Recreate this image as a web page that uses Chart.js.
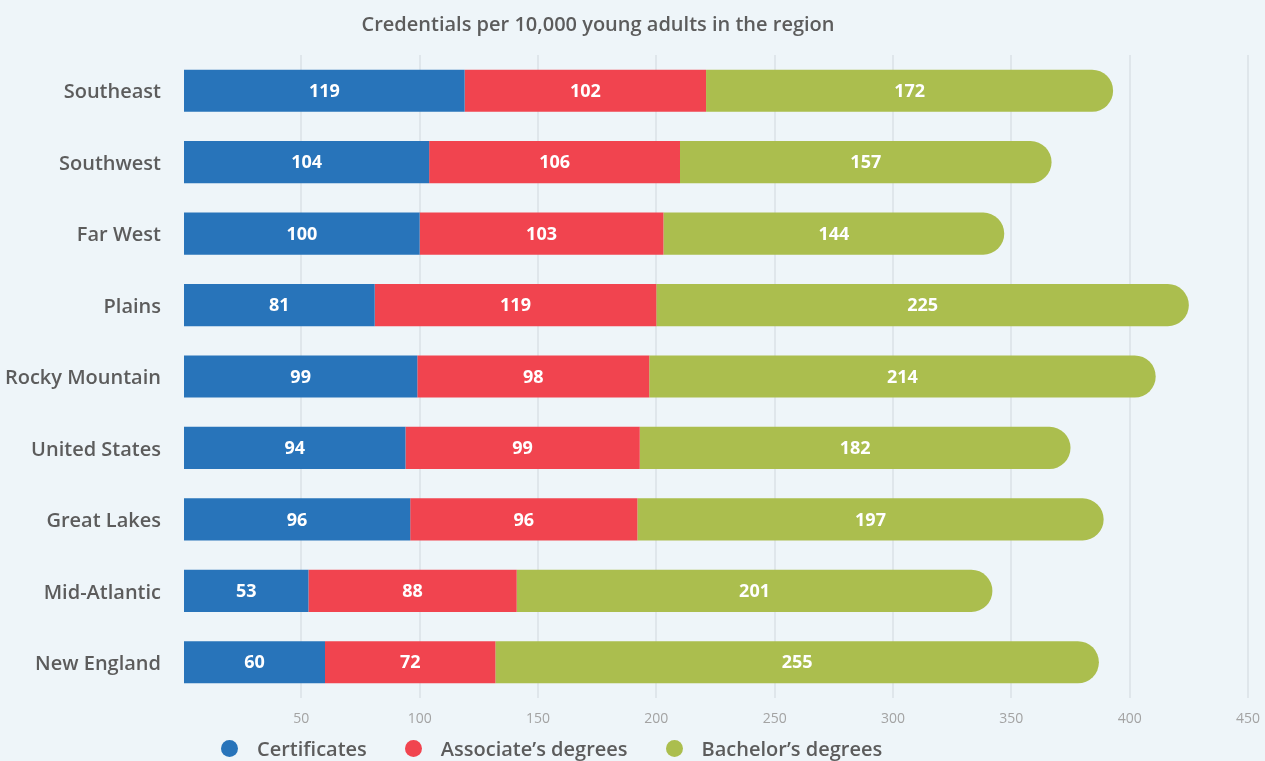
<!DOCTYPE html>
<html>
<head>
<meta charset="utf-8">
<title>Credentials per 10,000 young adults</title>
<script src="https://cdn.jsdelivr.net/npm/chart.js@4.4.1/dist/chart.umd.min.js"></script>
<style>
  html, body { margin: 0; padding: 0; overflow: hidden; background: #eef5f9; }
  .wrap { position: relative; width: 1265px; height: 761px; }
  .chart-title {
    position: absolute; left: 0; top: 10px; width: 1196px; text-align: center;
    font-family: "Open Sans", sans-serif; font-weight: 600; font-size: 20px; color: #5c5c5c;
  }
  .legend {
    position: absolute; left: 221px; top: 735px; display: flex; align-items: center;
    font-family: "Open Sans", sans-serif; font-weight: 600; font-size: 20px; color: #5c5c5c;
  }
  .legend span.dot { width: 17px; height: 17px; border-radius: 50%; display: inline-block; margin-right: 19px; }
  .legend span.txt { margin-right: 38px; }
</style>
</head>
<body>
<div class="wrap">
  <canvas id="credChart" width="1265" height="761"></canvas>
  <div class="chart-title">Credentials per 10,000 young adults in the region</div>
  <div class="legend" id="legend"></div>
</div>
<script>
// 数据
const regions = ['Southeast', 'Southwest', 'Far West', 'Plains', 'Rocky Mountain', 'United States', 'Great Lakes', 'Mid-Atlantic', 'New England'];
const certificates = [119, 104, 100, 81, 99, 94, 96, 53, 60];
const associates = [102, 106, 103, 119, 98, 99, 96, 88, 72];
const bachelors = [172, 157, 144, 225, 214, 182, 197, 201, 255];
const seriesNames = ['Certificates', 'Associate\u2019s degrees', 'Bachelor\u2019s degrees'];
const seriesColors = ['#2874ba', '#f1444f', '#abbe4e'];
const xTicks = [0, 50, 100, 150, 200, 250, 300, 350, 400, 450];

// 段内数值标签（白色粗体）
const segmentLabels = {
    id: 'segmentLabels',
    afterDatasetsDraw(chart) {
        const ctx = chart.ctx;
        ctx.save();
        ctx.fillStyle = '#ffffff';
        ctx.font = '700 18px "Open Sans", sans-serif';
        ctx.textAlign = 'center';
        ctx.textBaseline = 'middle';
        chart.data.datasets.forEach((ds, i) => {
            const meta = chart.getDatasetMeta(i);
            meta.data.forEach((bar, j) => {
                const p = bar.getProps(['x', 'y', 'base'], true);
                ctx.fillText(String(ds.data[j]), (p.x + p.base) / 2, p.y + 1);
            });
        });
        ctx.restore();
    }
};

const ctx = document.getElementById('credChart').getContext('2d');
new Chart(ctx, {
    type: 'bar',
    data: {
        labels: regions,
        datasets: [
            { label: seriesNames[0], data: certificates, backgroundColor: seriesColors[0] },
            { label: seriesNames[1], data: associates, backgroundColor: seriesColors[1] },
            { label: seriesNames[2], data: bachelors, backgroundColor: seriesColors[2], borderRadius: 21 }
        ]
    },
    options: {
        indexAxis: 'y',
        responsive: false,
        animation: false,
        barPercentage: 0.59,
        categoryPercentage: 1,
        layout: { padding: { top: 55, right: 17, bottom: 33, left: 0 } },
        plugins: {
            legend: { display: false },
            title: { display: false },
            tooltip: { enabled: false }
        },
        scales: {
            x: {
                stacked: true,
                min: 0,
                max: 450,
                afterBuildTicks: (scale) => { scale.ticks = xTicks.map(v => ({ value: v })); },
                afterFit: (scale) => {
                    scale.height = 30;
                    scale.paddingLeft = 0;
                    scale.paddingRight = 0;
                },
                border: { display: false },
                grid: {
                    drawTicks: false,
                    lineWidth: 2,
                    color: (c) => c.tick && c.tick.value === 0 ? 'rgba(0,0,0,0)' : '#dfe6eb'
                },
                ticks: {
                    padding: 13,
                    color: '#a3a3a3',
                    font: { family: '"Open Sans", sans-serif', size: 14 },
                    callback: (v) => v === 0 ? '' : v
                }
            },
            y: {
                stacked: true,
                afterFit: (scale) => { scale.width = 183; },
                border: { display: false },
                grid: { display: false, drawTicks: false },
                ticks: {
                    padding: 22,
                    labelOffset: 2,
                    color: '#5c5c5c',
                    font: { family: '"Open Sans", sans-serif', size: 20, weight: '600' }
                }
            }
        }
    },
    plugins: [segmentLabels]
});

// 图例
const legend = document.getElementById('legend');
seriesNames.forEach((name, i) => {
    const dot = document.createElement('span');
    dot.className = 'dot';
    dot.style.background = seriesColors[i];
    const txt = document.createElement('span');
    txt.className = 'txt';
    txt.textContent = name;
    legend.appendChild(dot);
    legend.appendChild(txt);
});
</script>
</body>
</html>
